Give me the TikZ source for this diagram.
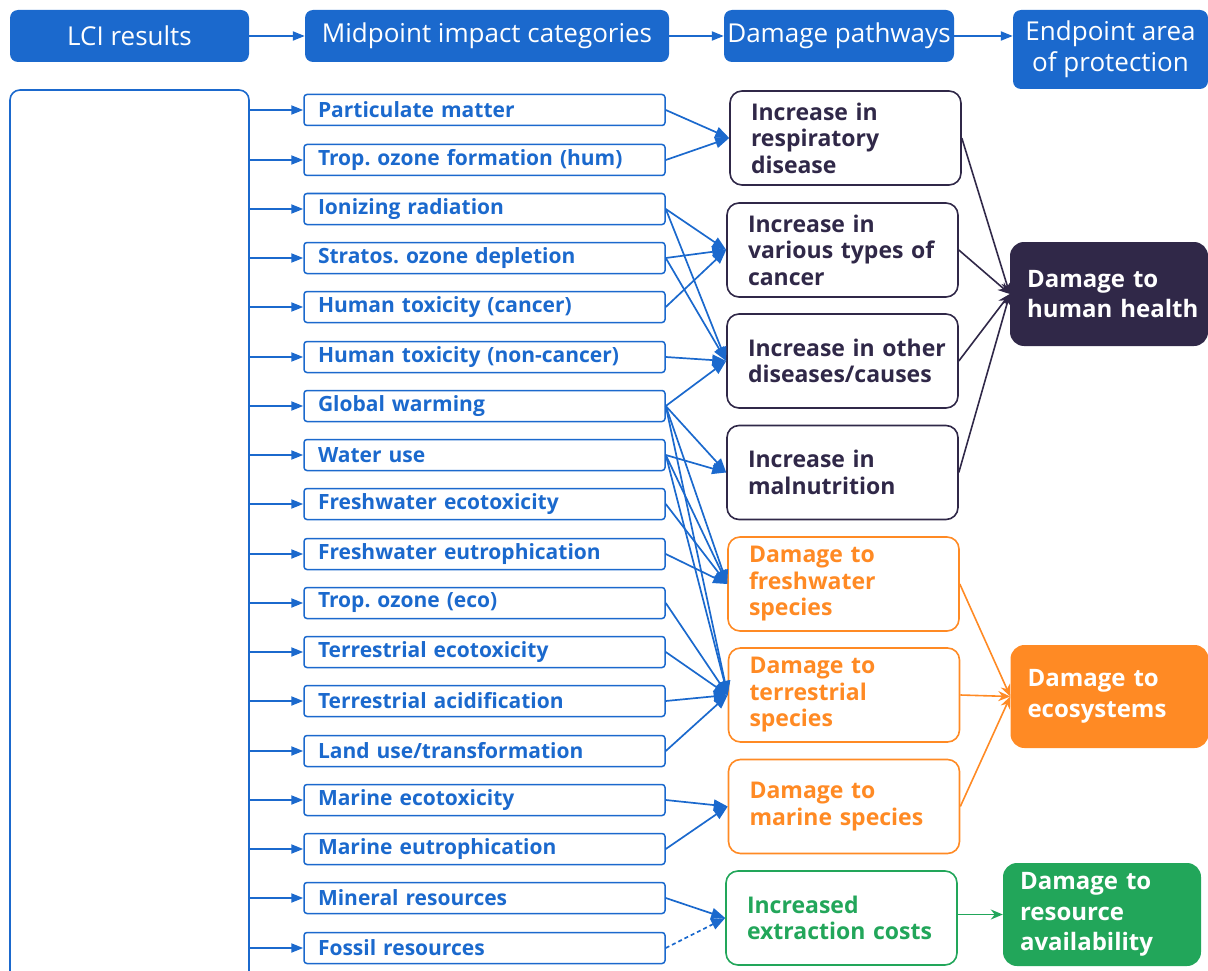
\documentclass[tikz,border=0pt]{standalone}
\usepackage{fontspec}
\setmainfont{Open Sans}
\usetikzlibrary{arrows.meta}
\definecolor{cblue}{HTML}{1B69CD}
\definecolor{cnavy}{HTML}{302848}
\definecolor{corange}{HTML}{FF8A24}
\definecolor{cgreen}{HTML}{22A65A}
\frenchspacing
\begin{document}
\begin{tikzpicture}[x=1pt,y=-1pt,
  hdr/.style={fill=cblue, text=white, rounded corners=8, inner sep=0, align=center,
    font=\fontsize{26}{31}\selectfont},
  mid/.style={draw=cblue, line width=1.5, rounded corners=3, minimum width=361,
    minimum height=31, text width=333, inner xsep=14, inner ysep=0, align=left,
    text=cblue, font=\fontsize{21}{25}\selectfont\bfseries},
  pbox/.style={draw=#1, text=#1, fill=white, line width=1.6, rounded corners=12,
    minimum width=231, minimum height=94, text width=189, inner xsep=21, inner ysep=0,
    align=left, font=\fontsize{23}{26.5}\selectfont\bfseries},
  ebox/.style={fill=#1, text=white, rounded corners=14, minimum width=198,
    minimum height=104, text width=164, inner xsep=17, inner ysep=0, align=left,
    font=\fontsize{24}{30.5}\selectfont\bfseries},
  conn/.style={draw=cblue, line width=1.7, -{Triangle[length=14pt,width=11pt]}},
  larrow/.style={draw=cblue, line width=2, -{Triangle[length=12pt,width=9pt]}},
  earrow/.style={draw=#1, line width=1.6, -{Stealth[length=12pt,width=10pt]}},
]
\useasboundingbox (0,0) rectangle (1208,971);

% header row
\node[hdr, minimum width=239, minimum height=52] (h1) at (129.5,36) {LCI results};
\node[hdr, minimum width=364, minimum height=52] (h2) at (487,36) {Midpoint impact categories};
\node[hdr, minimum width=230, minimum height=52] (h3) at (839,36) {Damage pathways};
\node[hdr, minimum width=195, minimum height=79] (h4) at (1110.5,49.5) {Endpoint area\\of protection};
\draw[larrow] (h1.east) -- (h2.west);
\draw[larrow] (h2.east) -- (h3.west);
\draw[larrow] (h3.east) -- (h3.east -| h4.west);

% LCI results box
\node[draw=cblue, line width=1.6, rounded corners=10, minimum width=239,
  minimum height=900, inner sep=0] (lci) at (129.5,540) {};

% midpoint categories
\foreach \t [count=\i from 0] in {Particulate matter, Trop. ozone formation (hum),
  Ionizing radiation, Stratos. ozone depletion, Human toxicity (cancer),
  Human toxicity (non-cancer), Global warming, Water use, Freshwater ecotoxicity,
  Freshwater eutrophication, Trop. ozone (eco), Terrestrial ecotoxicity,
  Terrestrial acidification, Land use/transformation, Marine ecotoxicity,
  Marine eutrophication, Mineral resources, Fossil resources}
  {\node[mid] (m\i) at (484.5,{round(110.4+49.25*\i)}) {\t};}

\foreach \i in {0,...,17}
  {\draw[larrow] (lci.east |- m\i.west) -- (m\i.west);}

% damage pathways
\node[pbox=cnavy] (p1) at (845.5,138) {Increase~in\\respiratory\\disease};
\node[pbox=cnavy] (p2) at (842.5,250) {Increase~in\\various~types~of\\cancer};
\node[pbox=cnavy] (p3) at (842.5,361) {Increase~in~other\\diseases/causes};
\node[pbox=cnavy] (p4) at (842.5,472.5) {Increase~in\\malnutrition};
\node[pbox=corange] (p5) at (843.5,584) {Damage~to\\freshwater\\species};
\node[pbox=corange] (p6) at (844,695) {Damage~to\\terrestrial\\species};
\node[pbox=corange] (p7) at (844,806.5) {Damage~to\\marine~species};
\node[pbox=cgreen] (p8) at (841.5,918) {Increased\\extraction~costs};

% endpoints
\node[ebox=cnavy] (e1) at (1109,294) {Damage~to\\human~health};
\node[ebox=corange, minimum width=197, minimum height=103] (e2) at (1109.5,696.5) {Damage~to\\ecosystems};
\node[ebox=cgreen, minimum height=103] (e3) at (1102,914.5) {Damage~to\\resource\\availability};

% midpoint -> pathway
\foreach \a/\b in {0/1,1/1,2/2,2/3,3/2,3/3,4/2,5/3,6/3,6/4,6/5,6/6,7/4,7/5,7/6,
  8/5,9/5,10/6,11/6,12/6,13/6,14/7,15/7,16/8}
  {\draw[conn] (m\a.east) -- (p\b.west);}
\draw[conn, dash pattern=on 4pt off 3pt] (m17.east) -- (p8.west);

% pathway -> endpoint
\foreach \b in {1,2,3,4} {\draw[earrow=cnavy] (p\b.east) -- (e1.west);}
\foreach \b in {5,6,7} {\draw[earrow=corange] (p\b.east) -- (e2.west);}
\draw[earrow=cgreen] (e3.west -| p8.east) -- (e3.west);
\end{tikzpicture}
\end{document}
